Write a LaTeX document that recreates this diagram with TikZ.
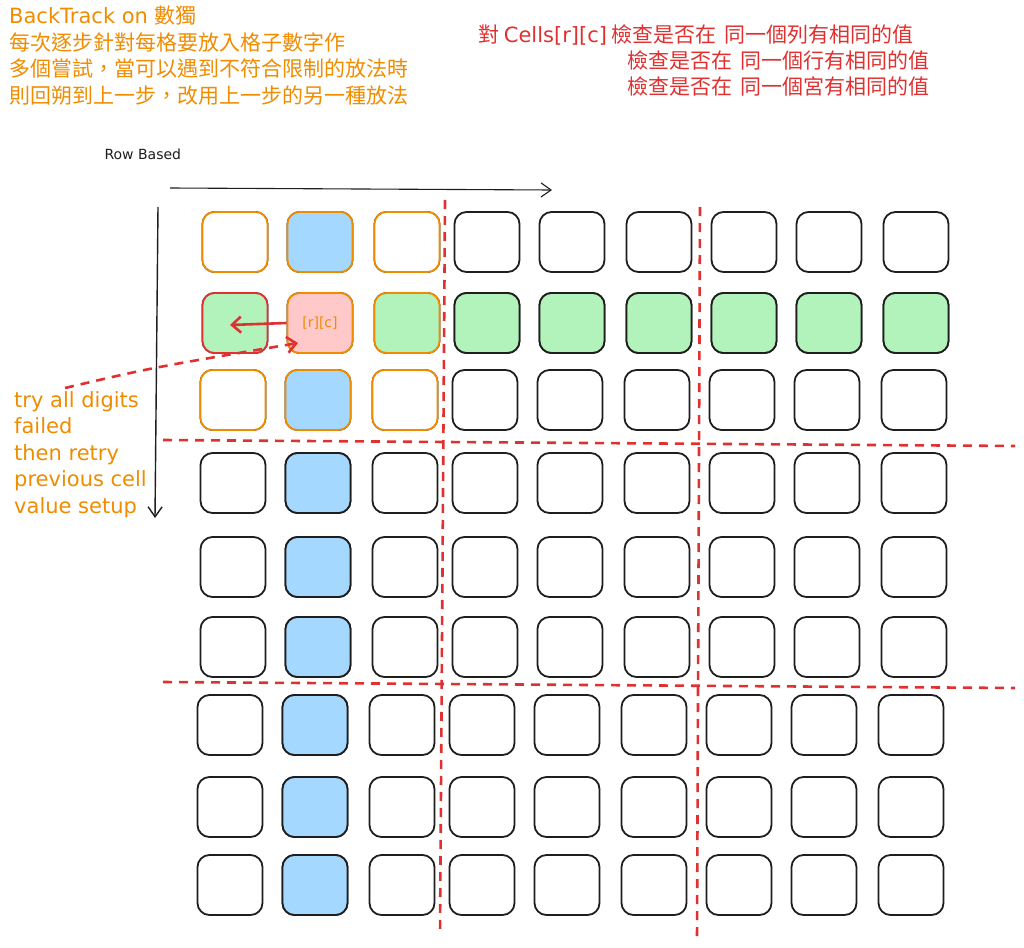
\documentclass[tikz,border=0pt]{standalone}
\usepackage{fontspec}
\setmainfont{Noto Sans CJK TC}
\newfontfamily\lat{DejaVu Sans}
\usetikzlibrary{arrows.meta}
\definecolor{xorange}{HTML}{F08C00}
\definecolor{xred}{HTML}{E03131}
\definecolor{xblue}{HTML}{A5D8FF}
\definecolor{xgreen}{HTML}{B2F2BB}
\definecolor{xpink}{HTML}{FFC9C9}
\definecolor{xblack}{HTML}{1E1E1E}
\tikzset{
  cell/.style={draw=xblack, line width=1.8pt, rounded corners=12pt, minimum width=65pt, minimum height=60pt, inner sep=0pt},
  ocell/.style={cell, draw=xorange},
  sep/.style={draw=xred, line width=2.6pt, dash pattern=on 9pt off 7pt},
  otext/.style={text=xorange, font=\fontsize{21}{26.5}\selectfont, anchor=north west, align=left, inner sep=0pt},
  rtext/.style={text=xred, font=\fontsize{21}{26}\selectfont, anchor=north west, inner sep=0pt},
}
\begin{document}
\begin{tikzpicture}[x=1pt,y=-1pt]
\useasboundingbox (0,0) rectangle (1024,947);
\fill[white] (0,0) rectangle (1024,947);
% cells
\foreach \r/\y/\dx in {1/242/0,2/323/0,3/400/-2,4/483/-2,5/567/-2,6/647/-2,7/725/-5,8/807/-5,9/885/-5}{
  \foreach \c/\x in {1/235,2/320,3/407,4/487,5/572,6/659,7/744,8/829,9/916}{
    \node[cell] (c\r\c) at (\x+\dx,\y) {};
  }
}
% row 1 and 3 block
\node[ocell, fill=white] at (c11) {};
\node[ocell, fill=xblue] at (c12) {};
\node[ocell, fill=white] at (c13) {};
\node[ocell, fill=white] at (c31) {};
\node[ocell, fill=xblue] at (c32) {};
\node[ocell, fill=white] at (c33) {};
% row 2
\node[cell, draw=xred, fill=xgreen] at (c21) {};
\node[ocell, fill=xpink, text=xorange, font=\lat\fontsize{14}{16}\selectfont] (rc) at (c22) {[r][c]};
\node[ocell, fill=xgreen] at (c23) {};
\foreach \c in {4,...,9}{\node[cell, fill=xgreen] at (c2\c) {};}
% column 2 blue
\foreach \r in {4,...,9}{\node[cell, fill=xblue] at (c\r2) {};}
% separators
\draw[sep] (445,200) -- (440,935);
\draw[sep] (700,207) -- (697,940);
\draw[sep] (163,440) -- (1015,446);
\draw[sep] (163,682) -- (1015,688);
% axes
\coordinate (hx0) at (170,188);
\coordinate (hx1) at (552,190);
\coordinate (vy0) at (158,207);
\coordinate (vy1) at (155,518);
\draw[xblack, line width=1.1pt, -{Straight Barb[length=10pt,width=14pt]}] (hx0) -- (hx1);
\draw[xblack, line width=1.4pt, -{Straight Barb[length=10pt,width=14pt]}] (vy0) -- (vy1);
\node[anchor=west, font=\lat\fontsize{14}{16}\selectfont, text=xblack] (rowbased) at (101,154) {Row Based};
% red arrows
\coordinate (tgt) at (230,325);
\draw[xred, line width=2.6pt, -{Straight Barb[length=9pt,width=16pt]}] (rc.west) -- (tgt);
\coordinate (dstart) at (65,388);
\coordinate (dend) at (298,343);
\draw[xred, line width=2.6pt, dash pattern=on 9pt off 7pt, -{Straight Barb[length=9pt,width=16pt]}] (dstart) .. controls (150,368) .. (dend);
% texts
\node[otext] (title) at (9,6) {{\lat BackTrack on }數獨\\每次逐步針對每格要放入格子數字作\\多個嘗試，當可以遇到不符合限制的放法時\\則回朔到上一步，改用上一步的另一種放法};
\node[otext, font=\lat\fontsize{21}{26.5}\selectfont] (note) at (14,391) {try all digits\\failed\\then retry\\previous cell\\value setup};
\node[rtext] (r1) at (478,24) {對 {\lat Cells[r][c]} 檢查是否在\, 同一個列有相同的值};
\node[rtext] (r2) at (627,50) {檢查是否在\, 同一個行有相同的值};
\node[rtext] (r3) at (627,76) {檢查是否在\, 同一個宮有相同的值};
\end{tikzpicture}
\end{document}
